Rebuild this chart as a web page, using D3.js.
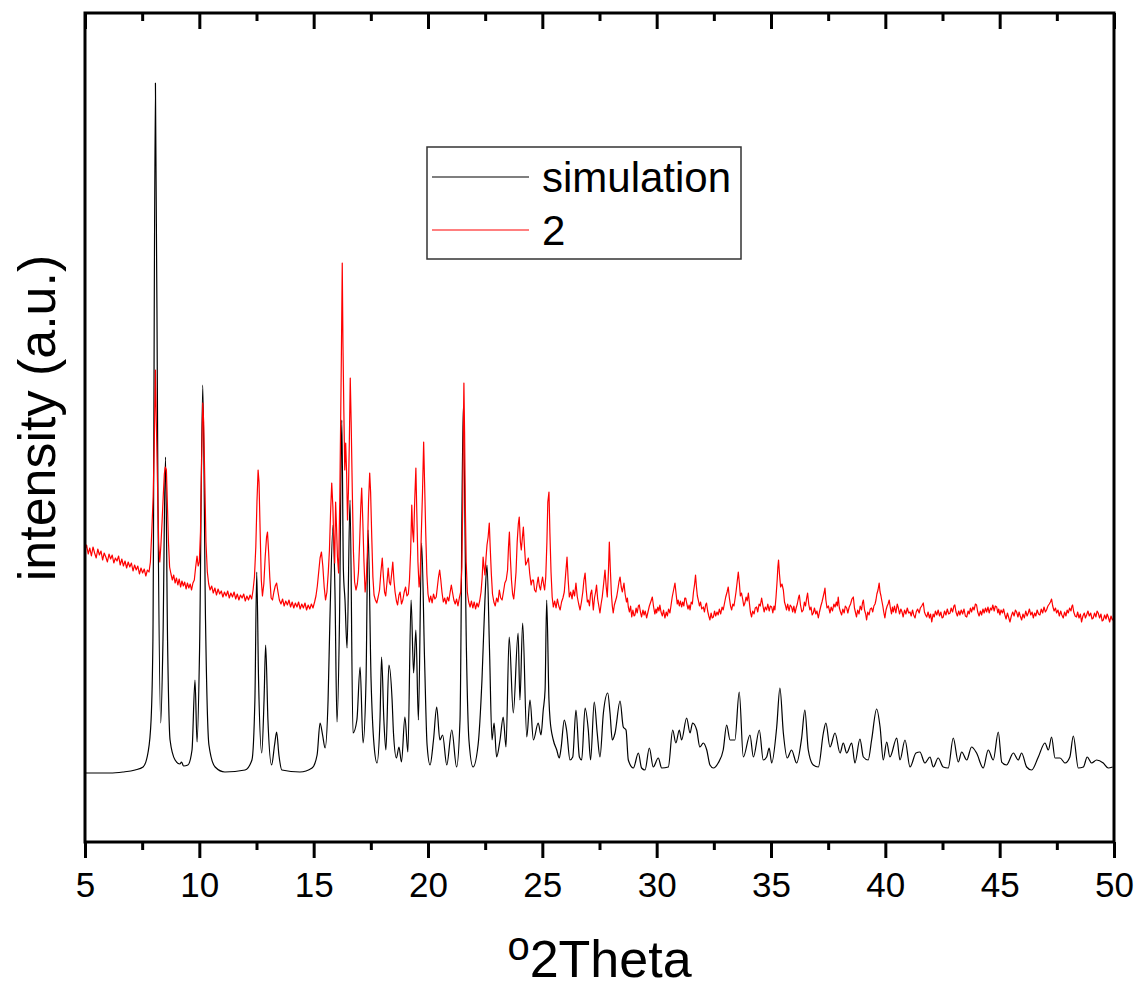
<!DOCTYPE html>
<html>
<head>
<meta charset="utf-8">
<script src="https://cdn.jsdelivr.net/npm/d3@7"></script>
<style>
  body { margin: 0; background: #fff; }
  text { font-family: Arial, "Liberation Sans", sans-serif; fill: #000; }
</style>
</head>
<body>
<svg id="xrd" width="1139" height="990"></svg>
<script>
// axis ticks
const majorTicks = [5, 10, 15, 20, 25, 30, 35, 40, 45, 50]
const minorTicks = [7.5, 12.5, 17.5, 22.5, 27.5, 32.5, 37.5, 42.5, 47.5]

const legendNames = ['simulation', '2']

// simulated pattern, [2theta, intensity a.u.]
const simulation = [
  [5.0,69],[6.09,69],[6.66,70],[7.19,72],[7.54,75],[7.76,90],[7.89,122],[7.97,202],[8.08,759],[8.19,342],
  [8.31,119],[8.41,202],[8.52,385],[8.61,202],[8.72,102],[8.94,82],[9.15,78],[9.22,80],[9.31,76],[9.50,77],
  [9.68,92],[9.81,162],[9.90,100],[10.01,192],[10.15,457],[10.27,222],[10.42,97],[10.69,75],[11.12,70],[12.0,72],
  [12.30,82],[12.43,142],[12.51,270],[12.59,162],[12.73,89],[12.83,142],[12.90,197],[13.0,122],[13.16,77],[13.29,97],
  [13.38,110],[13.48,87],[13.61,72],[14.40,70],[14.93,74],[15.15,87],[15.28,119],[15.39,107],[15.50,94],[15.63,142],
  [15.71,222],[15.85,317],[15.93,252],[16.02,120],[16.13,222],[16.23,422],[16.30,272],[16.37,242],[16.46,194],[16.59,342],
  [16.72,109],[16.89,122],[17.03,175],[17.16,99],[17.29,162],[17.38,312],[17.51,162],[17.64,97],[17.77,79],[17.90,122],
  [17.97,185],[18.07,122],[18.16,92],[18.29,177],[18.43,142],[18.49,109],[18.62,84],[18.73,95],[18.84,80],[18.99,125],
  [19.12,90],[19.26,242],[19.37,169],[19.47,212],[19.58,122],[19.72,299],[19.85,182],[19.96,97],[20.09,77],[20.24,102],
  [20.38,135],[20.52,102],[20.64,107],[20.82,77],[21.04,112],[21.25,75],[21.40,122],[21.54,435],[21.68,192],[21.79,102],
  [21.97,75],[22.19,97],[22.36,162],[22.49,242],[22.58,277],[22.69,192],[22.80,102],[22.89,119],[23.00,85],[23.15,102],
  [23.29,125],[23.41,95],[23.55,205],[23.73,129],[23.94,209],[24.02,142],[24.14,219],[24.32,105],[24.46,142],[24.61,102],
  [24.82,119],[24.94,107],[25.04,132],[25.12,152],[25.19,242],[25.29,142],[25.34,122],[25.48,102],[25.63,92],[25.74,84],
  [25.82,94],[25.96,122],[26.06,112],[26.21,82],[26.33,85],[26.47,132],[26.62,85],[26.72,82],[26.87,134],[27.01,112],
  [27.11,82],[27.27,140],[27.40,109],[27.52,85],[27.67,129],[27.86,149],[27.96,129],[28.06,102],[28.18,109],[28.40,141],
  [28.54,115],[28.66,112],[28.76,82],[28.98,74],[29.20,89],[29.34,74],[29.49,72],[29.68,94],[29.85,75],[30.07,84],
  [30.22,74],[30.51,75],[30.70,112],[30.84,99],[30.99,112],[31.09,102],[31.31,124],[31.46,109],[31.57,119],[31.75,112],
  [31.89,95],[32.04,99],[32.19,92],[32.33,77],[32.48,74],[32.69,79],[32.91,92],[33.06,117],[33.21,102],[33.42,102],
  [33.61,150],[33.79,85],[34.08,107],[34.23,85],[34.49,112],[34.66,82],[34.81,85],[34.92,94],[35.03,79],[35.25,115],
  [35.39,154],[35.54,109],[35.71,84],[35.90,92],[36.12,79],[36.34,104],[36.48,132],[36.63,92],[36.85,77],[37.07,75],
  [37.29,109],[37.40,119],[37.58,95],[37.80,109],[38.02,89],[38.16,99],[38.31,89],[38.53,99],[38.67,79],[38.89,103],
  [39.04,85],[39.25,82],[39.40,102],[39.62,133],[39.77,115],[39.91,82],[40.06,100],[40.20,85],[40.50,104],[40.64,82],
  [40.86,102],[41.08,75],[41.34,89],[41.51,90],[41.73,79],[41.95,85],[42.10,75],[42.31,84],[42.53,75],[42.75,74],
  [42.97,104],[43.19,80],[43.34,90],[43.56,82],[43.77,95],[43.99,89],[44.28,74],[44.50,92],[44.72,82],[44.94,110],
  [45.09,80],[45.30,77],[45.60,89],[45.81,82],[45.96,89],[46.18,75],[46.40,72],[46.69,85],[46.98,99],[47.13,92],
  [47.27,105],[47.42,84],[47.64,84],[47.86,79],[48.07,85],[48.22,106],[48.44,74],[48.66,75],[48.83,85],[49.02,79],
  [49.24,82],[49.53,79],[49.75,74],[49.94,75]
]

// measured pattern of 2, [2theta, intensity a.u.]
const sample2 = [
  [5.00,292],[5.07,297],[5.14,288],[5.21,294],[5.28,286],[5.35,295],[5.42,289],[5.49,284],[5.56,293],[5.63,287],
  [5.70,291],[5.77,282],[5.84,289],[5.91,285],[5.98,280],[6.05,288],[6.12,283],[6.19,287],[6.26,279],[6.33,284],
  [6.40,281],[6.47,286],[6.54,277],[6.61,283],[6.68,276],[6.75,281],[6.82,274],[6.89,280],[6.96,275],[7.03,279],
  [7.10,271],[7.17,277],[7.24,272],[7.31,276],[7.38,268],[7.45,274],[7.52,269],[7.59,273],[7.66,266],[7.73,272],
  [7.80,270],[7.86,280],[7.92,310],[7.98,345],[8.03,400],[8.08,472],[8.12,420],[8.17,360],[8.22,300],[8.27,280],
  [8.32,297],[8.37,320],[8.42,345],[8.47,368],[8.51,375],[8.56,372],[8.60,340],[8.65,300],[8.70,275],[8.76,268],
  [8.82,262],[8.88,267],[8.94,259],[9.00,264],[9.06,257],[9.12,263],[9.18,255],[9.24,261],[9.30,256],[9.36,260],
  [9.42,253],[9.48,259],[9.54,254],[9.60,258],[9.66,252],[9.72,259],[9.78,262],[9.84,275],[9.90,286],[9.95,276],
  [10.00,280],[10.05,310],[10.10,380],[10.15,439],[10.19,420],[10.24,360],[10.29,300],[10.35,270],[10.41,258],[10.47,252],
  [10.54,256],[10.61,249],[10.68,254],[10.75,247],[10.82,253],[10.89,248],[10.96,251],[11.03,245],[11.10,250],[11.17,246],
  [11.24,251],[11.31,244],[11.38,249],[11.45,245],[11.52,250],[11.59,243],[11.66,248],[11.73,242],[11.80,247],[11.87,244],
  [11.94,248],[12.01,241],[12.08,246],[12.15,242],[12.22,247],[12.29,243],[12.35,252],[12.41,265],[12.47,295],[12.52,340],
  [12.57,372],[12.61,360],[12.66,310],[12.71,262],[12.76,246],[12.82,258],[12.88,285],[12.94,305],[12.98,310],[13.03,290],
  [13.08,265],[13.14,244],[13.20,242],[13.26,250],[13.32,256],[13.38,259],[13.44,250],[13.50,242],[13.57,238],[13.64,243],
  [13.71,236],[13.78,241],[13.85,237],[13.92,242],[13.99,235],[14.06,240],[14.13,234],[14.20,239],[14.27,235],[14.34,240],
  [14.41,233],[14.48,238],[14.55,234],[14.62,239],[14.69,232],[14.76,237],[14.83,233],[14.90,238],[14.97,234],[15.04,240],
  [15.10,246],[15.16,256],[15.22,270],[15.28,284],[15.34,290],[15.40,276],[15.46,255],[15.52,242],[15.58,250],[15.64,270],
  [15.69,292],[15.74,330],[15.79,359],[15.84,335],[15.88,300],[15.92,279],[15.96,340],[16.00,315],[16.04,285],[16.09,269],
  [16.14,340],[16.18,420],[16.21,482],[16.25,579],[16.28,500],[16.32,430],[16.36,372],[16.40,399],[16.44,370],[16.48,322],
  [16.52,350],[16.56,400],[16.60,464],[16.64,420],[16.69,350],[16.74,290],[16.79,260],[16.85,252],[16.91,258],[16.96,270],
  [17.01,300],[17.06,335],[17.10,354],[17.15,320],[17.20,280],[17.25,250],[17.30,262],[17.35,290],[17.40,340],[17.45,369],
  [17.49,350],[17.54,305],[17.59,265],[17.64,247],[17.70,242],[17.76,239],[17.82,245],[17.88,252],[17.94,270],[18.00,284],
  [18.05,265],[18.10,250],[18.15,246],[18.20,258],[18.26,274],[18.31,260],[18.36,257],[18.41,268],[18.46,280],[18.51,262],
  [18.56,250],[18.62,241],[18.67,237],[18.73,247],[18.78,250],[18.84,238],[18.90,242],[18.96,250],[19.02,255],[19.08,246],
  [19.14,248],[19.19,262],[19.24,290],[19.29,337],[19.33,310],[19.37,300],[19.42,342],[19.47,374],[19.51,330],[19.56,280],
  [19.61,255],[19.66,268],[19.71,310],[19.76,350],[19.81,400],[19.85,360],[19.90,310],[19.95,268],[20.00,248],[20.06,240],
  [20.12,246],[20.18,239],[20.24,248],[20.30,243],[20.36,245],[20.41,255],[20.46,265],[20.51,272],[20.56,262],[20.61,250],
  [20.67,240],[20.73,244],[20.79,238],[20.85,245],[20.91,241],[20.97,250],[21.02,257],[21.07,250],[21.13,242],[21.19,238],
  [21.25,243],[21.31,236],[21.37,244],[21.43,250],[21.48,275],[21.52,340],[21.55,420],[21.57,459],[21.60,410],[21.63,340],
  [21.67,280],[21.72,250],[21.78,240],[21.84,235],[21.90,241],[21.96,234],[22.02,240],[22.08,233],[22.14,239],[22.20,235],
  [22.26,241],[22.32,250],[22.37,265],[22.41,285],[22.45,275],[22.49,267],[22.54,285],[22.58,297],[22.63,305],[22.68,319],
  [22.72,295],[22.77,268],[22.82,248],[22.88,240],[22.94,236],[23.00,244],[23.06,240],[23.12,252],[23.18,244],[23.24,242],
  [23.30,250],[23.36,259],[23.42,262],[23.48,272],[23.52,295],[23.56,310],[23.60,285],[23.65,262],[23.70,248],[23.75,243],
  [23.80,255],[23.85,270],[23.90,300],[23.95,318],[23.99,325],[24.04,300],[24.08,292],[24.13,305],[24.17,315],[24.22,295],
  [24.27,277],[24.33,280],[24.39,284],[24.45,268],[24.51,257],[24.56,262],[24.61,262],[24.66,252],[24.72,250],[24.77,258],
  [24.82,265],[24.87,256],[24.92,252],[24.97,260],[25.01,265],[25.06,257],[25.10,252],[25.15,265],[25.20,300],[25.24,340],
  [25.29,350],[25.33,310],[25.38,270],[25.43,245],[25.48,235],[25.54,241],[25.60,234],[25.66,243],[25.72,236],[25.78,232],
  [25.84,240],[25.90,244],[25.96,250],[26.02,268],[26.08,285],[26.13,262],[26.18,245],[26.24,250],[26.30,243],[26.35,252],
  [26.41,246],[26.47,259],[26.53,245],[26.59,238],[26.65,232],[26.71,240],[26.77,250],[26.82,262],[26.87,269],[26.92,252],
  [26.97,240],[27.01,242],[27.06,236],[27.11,248],[27.16,252],[27.20,240],[27.23,232],[27.28,244],[27.33,250],[27.37,257],
  [27.42,243],[27.47,236],[27.52,229],[27.57,238],[27.62,245],[27.68,258],[27.74,272],[27.79,256],[27.84,245],[27.89,270],
  [27.93,300],[27.97,275],[28.02,248],[28.06,236],[28.10,229],[28.15,237],[28.20,241],[28.25,245],[28.30,252],[28.35,260],
  [28.40,265],[28.45,255],[28.50,250],[28.57,259],[28.62,248],[28.68,240],[28.72,244],[28.76,235],[28.81,230],[28.86,236],
  [28.91,225],[28.96,232],[29.01,226],[29.05,227],[29.10,234],[29.15,229],[29.20,236],[29.24,237],[29.29,230],[29.34,225],
  [29.40,232],[29.45,227],[29.50,231],[29.56,224],[29.62,230],[29.68,236],[29.74,240],[29.81,245],[29.86,236],[29.92,228],
  [29.97,233],[30.00,229],[30.05,235],[30.10,231],[30.14,237],[30.19,230],[30.25,226],[30.30,232],[30.36,224],[30.42,230],
  [30.47,226],[30.52,233],[30.58,229],[30.63,237],[30.68,245],[30.74,252],[30.80,259],[30.85,248],[30.90,238],[30.94,242],
  [30.99,236],[31.04,241],[31.09,235],[31.14,240],[31.19,236],[31.23,244],[31.27,244],[31.32,238],[31.37,233],[31.42,237],
  [31.46,232],[31.51,240],[31.56,238],[31.61,250],[31.66,258],[31.70,267],[31.74,255],[31.78,246],[31.82,242],[31.87,236],
  [31.92,240],[31.97,233],[32.04,235],[32.09,230],[32.14,237],[32.18,239],[32.23,231],[32.28,226],[32.33,222],[32.38,229],
  [32.43,224],[32.48,225],[32.53,231],[32.58,226],[32.64,230],[32.69,227],[32.74,233],[32.80,228],[32.86,235],[32.91,232],
  [32.96,238],[33.02,245],[33.08,250],[33.13,255],[33.18,244],[33.23,236],[33.28,232],[33.33,238],[33.38,236],[33.42,242],
  [33.47,250],[33.52,260],[33.57,270],[33.62,258],[33.66,246],[33.71,249],[33.76,243],[33.81,236],[33.86,239],[33.91,245],
  [33.96,241],[34.01,249],[34.06,238],[34.10,230],[34.15,225],[34.20,231],[34.26,228],[34.31,234],[34.37,235],[34.42,230],
  [34.48,238],[34.53,236],[34.59,244],[34.64,237],[34.70,230],[34.75,235],[34.81,232],[34.86,238],[34.92,231],[34.97,236],
  [35.03,235],[35.08,229],[35.13,236],[35.17,232],[35.22,245],[35.27,262],[35.30,275],[35.33,282],[35.37,268],[35.42,255],
  [35.48,258],[35.54,252],[35.59,240],[35.64,236],[35.68,232],[35.73,238],[35.79,231],[35.84,237],[35.90,235],[35.95,230],
  [36.00,236],[36.05,229],[36.10,234],[36.15,238],[36.20,244],[36.24,247],[36.29,237],[36.35,230],[36.41,232],[36.46,240],
  [36.51,236],[36.56,244],[36.60,249],[36.65,238],[36.70,232],[36.75,235],[36.80,227],[36.85,229],[36.90,234],[36.96,228],
  [37.01,231],[37.07,224],[37.12,230],[37.18,236],[37.23,240],[37.29,246],[37.33,250],[37.36,254],[37.40,242],[37.45,234],
  [37.51,236],[37.58,229],[37.63,235],[37.69,231],[37.75,238],[37.80,235],[37.86,240],[37.90,236],[37.94,245],[37.99,234],
  [38.04,230],[38.09,227],[38.14,233],[38.20,229],[38.25,236],[38.31,234],[38.36,229],[38.42,235],[38.48,238],[38.54,243],
  [38.60,245],[38.65,234],[38.70,229],[38.74,225],[38.79,232],[38.85,228],[38.90,236],[38.96,232],[39.00,239],[39.04,242],
  [39.09,232],[39.14,228],[39.18,222],[39.23,230],[39.29,227],[39.34,233],[39.40,234],[39.45,230],[39.50,236],[39.55,238],
  [39.59,242],[39.63,248],[39.68,252],[39.73,259],[39.77,250],[39.81,246],[39.84,242],[39.89,236],[39.93,230],[39.98,224],
  [40.03,232],[40.08,236],[40.12,238],[40.17,242],[40.22,234],[40.27,228],[40.31,235],[40.35,230],[40.40,236],[40.46,229],
  [40.52,238],[40.57,234],[40.62,228],[40.68,233],[40.73,230],[40.78,225],[40.84,232],[40.90,228],[40.96,234],[41.02,229],
  [41.08,230],[41.13,226],[41.19,232],[41.24,227],[41.30,224],[41.35,230],[41.41,233],[41.48,229],[41.53,234],[41.59,236],
  [41.66,239],[41.71,230],[41.76,227],[41.81,225],[41.87,230],[41.93,224],[41.98,228],[42.03,220],[42.09,228],[42.14,225],
  [42.19,231],[42.25,227],[42.31,232],[42.37,226],[42.43,230],[42.48,224],[42.53,225],[42.59,231],[42.65,227],[42.71,233],
  [42.77,228],[42.83,229],[42.88,234],[42.94,230],[43.00,236],[43.04,237],[43.09,230],[43.15,226],[43.21,231],[43.26,227],
  [43.32,232],[43.38,228],[43.44,233],[43.50,226],[43.56,225],[43.62,231],[43.67,228],[43.72,234],[43.77,230],[43.83,235],
  [43.88,232],[43.94,238],[43.99,237],[44.04,230],[44.10,226],[44.16,231],[44.21,227],[44.27,233],[44.32,229],[44.38,234],
  [44.43,230],[44.49,235],[44.54,229],[44.60,234],[44.65,232],[44.70,237],[44.76,231],[44.81,236],[44.87,235],[44.92,229],
  [44.96,233],[45.01,227],[45.06,232],[45.12,229],[45.17,233],[45.23,227],[45.28,223],[45.34,229],[45.40,224],[45.45,220],
  [45.51,226],[45.57,230],[45.63,226],[45.69,232],[45.74,230],[45.80,225],[45.85,230],[45.90,226],[45.96,222],[46.02,228],
  [46.08,224],[46.14,231],[46.20,226],[46.25,229],[46.30,233],[46.36,227],[46.42,230],[46.47,224],[46.53,229],[46.58,226],
  [46.64,232],[46.70,228],[46.76,227],[46.82,233],[46.88,229],[46.94,235],[47.00,230],[47.05,232],[47.11,236],[47.17,238],
  [47.22,240],[47.27,243],[47.32,236],[47.38,231],[47.44,234],[47.49,229],[47.55,232],[47.61,226],[47.67,231],[47.72,227],
  [47.78,224],[47.84,230],[47.90,226],[47.95,232],[48.00,229],[48.06,234],[48.12,231],[48.16,236],[48.19,237],[48.24,230],
  [48.30,226],[48.36,225],[48.41,230],[48.47,224],[48.53,228],[48.58,220],[48.64,226],[48.70,229],[48.75,224],[48.80,227],
  [48.86,231],[48.92,226],[48.98,229],[49.04,223],[49.09,224],[49.15,229],[49.21,225],[49.26,231],[49.31,229],[49.37,224],
  [49.43,228],[49.48,221],[49.53,222],[49.59,227],[49.65,223],[49.70,228],[49.75,225],[49.81,220],[49.87,226],[49.93,222],
  [50.00,224]
]

const svg = d3.select('#xrd')

const padL = 85, padR = 1114, padT = 13, padB = 842

const scalex = d3.scaleLinear()
  .domain([5, 50])
  .range([padL, padR])
const scaley = d3.scaleLinear()
  .domain([0, 829])
  .range([padB, padT])

svg.append('clipPath').attr('id', 'plotclip')
  .append('rect')
  .attr('x', padL).attr('y', padT)
  .attr('width', padR - padL).attr('height', padB - padT)

const plot = svg.append('g').attr('clip-path', 'url(#plotclip)')

// simulation is smooth, measured data is drawn point to point
plot.append('path')
  .datum(simulation)
  .attr('fill', 'none')
  .attr('stroke', '#000')
  .attr('stroke-width', 1.2)
  .attr('stroke-linejoin', 'round')
  .attr('d', d3.line()
    .curve(d3.curveMonotoneX)
    .x(d => scalex(d[0]))
    .y(d => scaley(d[1]))
  )

plot.append('path')
  .datum(sample2)
  .attr('fill', 'none')
  .attr('stroke', '#ff0000')
  .attr('stroke-width', 1.2)
  .attr('stroke-linejoin', 'round')
  .attr('d', d3.line()
    .x(d => scalex(d[0]))
    .y(d => scaley(d[1]))
  )

// bottom axis, ticks outward
const xaxis = svg.append('g')
  .attr('transform', `translate(0,${padB})`)
  .call(d3.axisBottom(scalex).tickValues(majorTicks).tickSize(16).tickFormat(d3.format('d')))
xaxis.select('.domain').remove()
xaxis.selectAll('line').attr('stroke', '#000').attr('stroke-width', 3)
xaxis.selectAll('text')
  .attr('y', 55).attr('dy', 0)
  .style('font-size', '35px')
  .style('font-family', 'Arial, "Liberation Sans", sans-serif')
  .attr('fill', '#000')

svg.append('g')
  .attr('transform', `translate(0,${padB})`)
  .call(d3.axisBottom(scalex).tickValues(minorTicks).tickSize(8).tickFormat(''))
  .call(g => g.select('.domain').remove())
  .selectAll('line').attr('stroke', '#000').attr('stroke-width', 3)

// top axis, ticks inward
svg.append('g')
  .attr('transform', `translate(0,${padT})`)
  .call(d3.axisTop(scalex).tickValues(majorTicks).tickSize(-16).tickFormat(''))
  .call(g => g.select('.domain').remove())
  .selectAll('line').attr('stroke', '#000').attr('stroke-width', 3)

svg.append('g')
  .attr('transform', `translate(0,${padT})`)
  .call(d3.axisTop(scalex).tickValues(minorTicks).tickSize(-8).tickFormat(''))
  .call(g => g.select('.domain').remove())
  .selectAll('line').attr('stroke', '#000').attr('stroke-width', 3)

// frame
svg.append('rect')
  .attr('x', padL).attr('y', padT)
  .attr('width', padR - padL).attr('height', padB - padT)
  .attr('fill', 'none')
  .attr('stroke', '#000')
  .attr('stroke-width', 3)

// axis titles
const xt = svg.append('text')
  .attr('x', (padL + padR) / 2)
  .attr('y', 977)
  .attr('text-anchor', 'middle')
  .style('font-size', '52px')
xt.append('tspan').text('o').style('font-size', '40px').attr('dy', -17)
xt.append('tspan').text('2Theta').attr('dy', 17)

svg.append('text')
  .attr('transform', 'translate(55,418) rotate(-90)')
  .attr('text-anchor', 'middle')
  .style('font-size', '52px')
  .text('intensity (a.u.)')

// legend
const legend = svg.append('g').attr('transform', 'translate(427,147)')
legend.append('rect')
  .attr('width', 314).attr('height', 112)
  .attr('fill', '#fff')
  .attr('stroke', '#333')
  .attr('stroke-width', 1.5)

const legendColors = ['#000', '#ff0000']
legendNames.forEach((name, i) => {
  const yy = 30 + i * 53
  legend.append('line')
    .attr('x1', 5).attr('x2', 102)
    .attr('y1', yy).attr('y2', yy)
    .attr('stroke', legendColors[i])
    .attr('stroke-width', 1.2)
  legend.append('text')
    .attr('x', 115).attr('y', yy + 15)
    .style('font-size', '42px')
    .text(name)
})
</script>
</body>
</html>
